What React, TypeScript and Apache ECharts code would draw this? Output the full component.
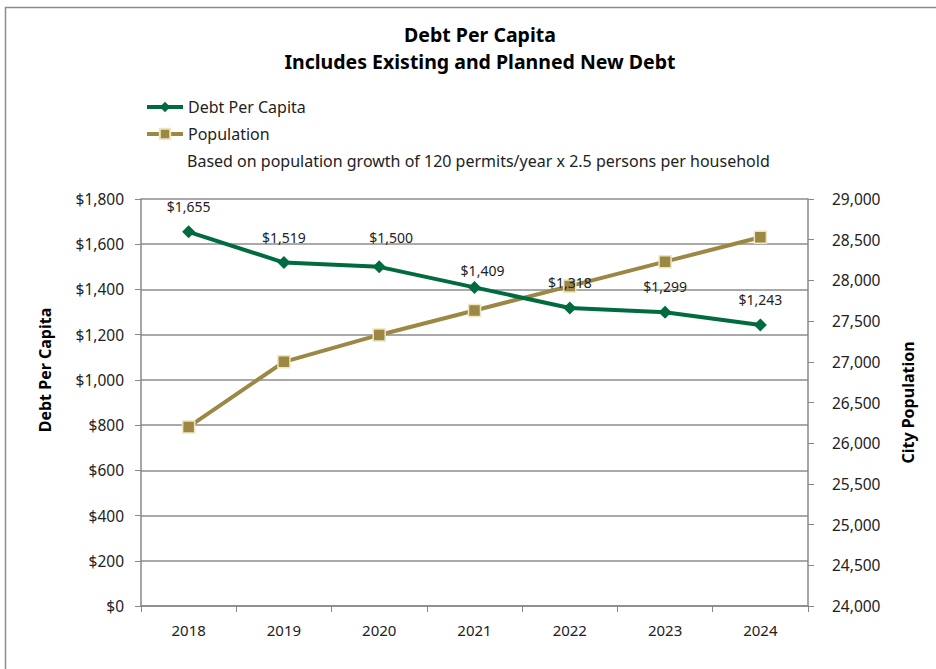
import React, { useEffect, useRef } from "react";
import * as echarts from "echarts";

const years = ["2018", "2019", "2020", "2021", "2022", "2023", "2024"];
const debtPerCapita = [1655, 1519, 1500, 1409, 1318, 1299, 1243];
const population = [26200, 27000, 27330, 27630, 27930, 28230, 28530];
const titleLines = ["Debt Per Capita", "Includes Existing and Planned New Debt"];
const noteText = "Based on population growth of 120 permits/year x 2.5 persons per household";
const leftAxisName = "Debt Per Capita";
const rightAxisName = "City Population";

const FONT = "'Noto Sans', 'Open Sans', sans-serif";
const GREEN = "#006B3F";
const GOLD = "#9C8745";

// label nudges (px) to mirror the reference label placement
const labelNudge: Record<number, [number, number]> = { 2: [12, -4], 3: [8, 9] };

export default function App() {
  const ref = useRef<HTMLDivElement>(null);
  useEffect(() => {
    if (!ref.current) return;
    const chart = echarts.init(ref.current, null, { renderer: "svg" });
    chart.setOption({
      animation: false,
      backgroundColor: "#ffffff",
      textStyle: { fontFamily: FONT },
      title: {
        text: titleLines.join("\n"),
        left: 480,
        textAlign: "center",
        top: 21,
        padding: 0,
        textStyle: { fontSize: 19.5, fontWeight: "bold", color: "#000", lineHeight: 27, fontFamily: FONT },
      },
      legend: {
        orient: "vertical",
        left: 140,
        top: 94,
        itemWidth: 36,
        itemHeight: 13,
        itemGap: 11,
        data: [
          { name: "Debt Per Capita", lineStyle: { width: 4 } },
          { name: "Population", lineStyle: { width: 4 } },
        ],
        textStyle: { fontSize: 16, color: "#222", fontFamily: FONT, padding: [0, 0, 0, 0] },
      },
      graphic: [
        {
          type: "rect",
          shape: { x: 5.5, y: 7.5, width: 940, height: 680 },
          style: { fill: "none", stroke: "#8c8c8c", lineWidth: 1.5 },
          silent: true,
        },
        {
          type: "text",
          left: 187,
          top: 153,
          style: { text: noteText, fontSize: 16, fill: "#222", fontFamily: FONT },
        },
        {
          type: "text",
          x: 45,
          y: 370,
          rotation: Math.PI / 2,
          style: {
            text: leftAxisName,
            fontSize: 16,
            fontWeight: "bold",
            fill: "#000",
            fontFamily: FONT,
            align: "center",
            verticalAlign: "middle",
          },
        },
      ],
      grid: { left: 141, right: 128, top: 199, bottom: 63 },
      xAxis: {
        type: "category",
        data: years,
        boundaryGap: true,
        axisLine: { lineStyle: { color: "#888", width: 1.5 } },
        axisTick: { show: true, length: 6, lineStyle: { color: "#888" } },
        axisLabel: { fontSize: 15, color: "#222", margin: 16, fontFamily: FONT },
      },
      yAxis: [
        {
          type: "value",
          min: 0,
          max: 1800,
          interval: 200,
          axisLine: { show: true, lineStyle: { color: "#888", width: 1.5 } },
          axisTick: { show: true, length: 6, lineStyle: { color: "#888" } },
          splitLine: { show: true, lineStyle: { color: "#8c8c8c", width: 1.5 } },
          axisLabel: {
            fontSize: 15.5,
            color: "#222",
            margin: 17,
            fontFamily: FONT,
            formatter: (v: number) => "$" + v.toLocaleString("en-US"),
          },
        },
        {
          type: "value",
          min: 24000,
          max: 29000,
          interval: 500,
          name: rightAxisName,
          nameLocation: "middle",
          nameGap: 92,
          nameRotate: 90,
          nameTextStyle: { fontSize: 16, fontWeight: "bold", color: "#000", fontFamily: FONT },
          axisLine: { show: true, lineStyle: { color: "#888", width: 1.5 } },
          axisTick: { show: true, length: 6, lineStyle: { color: "#888" } },
          splitLine: { show: false },
          axisLabel: {
            fontSize: 15.5,
            color: "#222",
            margin: 24,
            fontFamily: FONT,
            formatter: (v: number) => v.toLocaleString("en-US"),
          },
        },
      ],
      series: [
        {
          name: "Debt Per Capita",
          type: "line",
          yAxisIndex: 0,
          data: debtPerCapita.map((v, i) => ({
            value: v,
            label: labelNudge[i] ? { offset: labelNudge[i] } : undefined,
          })),
          symbol: "diamond",
          symbolSize: 13,
          lineStyle: { color: GREEN, width: 4 },
          itemStyle: { color: GREEN },
          label: {
            show: true,
            position: "top",
            distance: 12,
            fontSize: 14,
            color: "#222",
            fontFamily: FONT,
            formatter: (p: any) => "$" + Number(p.value).toLocaleString("en-US"),
          },
          z: 3,
        },
        {
          name: "Population",
          type: "line",
          yAxisIndex: 1,
          data: population,
          symbol: "rect",
          symbolSize: 12,
          lineStyle: { color: GOLD, width: 4 },
          itemStyle: { color: GOLD, borderColor: "#EDE6C0", borderWidth: 1.5 },
          z: 2,
        },
      ],
    });
    return () => chart.dispose();
  }, []);
  return (
    <div
      ref={ref}
      style={{ position: "fixed", left: 0, top: 0, width: 936, height: 669 }}
    />
  );
}
